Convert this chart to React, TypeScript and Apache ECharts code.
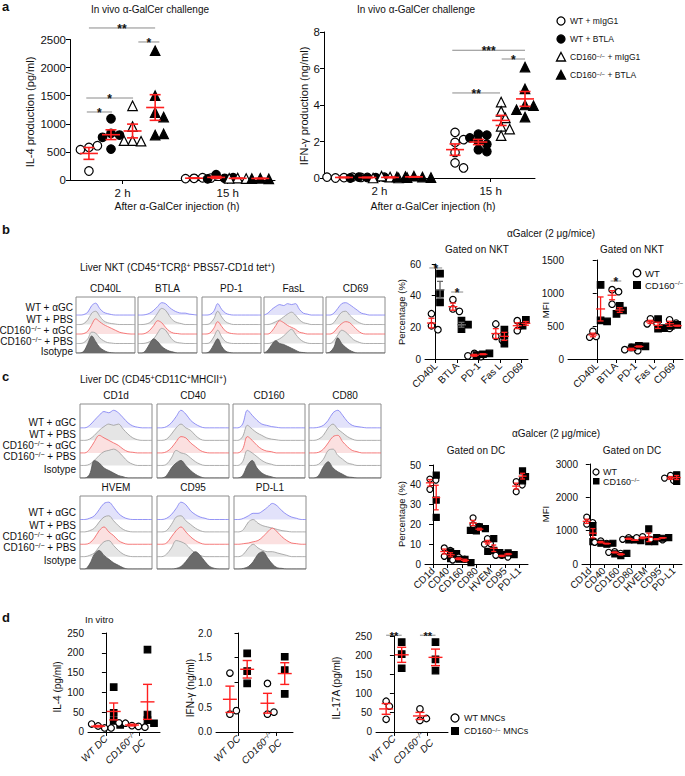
import React, { useEffect, useRef } from "react";
import * as echarts from "echarts";

const FONT = "'Liberation Sans', Arial, Helvetica, sans-serif";
const RED = "#ff1f1f";
const SUP = "{s|−/−}";

// ---------------- Panel a ----------------
const aTimes = ["2 h", "15 h"];
const aGroupNames = ["WT + mIgG1", "WT + BTLA", "CD160" + SUP + " + mIgG1", "CD160" + SUP + " + BTLA"];
const il4At2h = [[580, 610, 540, 160], [1090, 830, 800, 760, 550], [1320, 950, 700, 690, 700], [2300, 1500, 1200, 1120, 800, 820]];
const il4At15h = [[30, 40, 25, 35], [95, 30, 20, 40], [35, 25, 30], [30, 20, 25, 35]];
const ifngAt2h = [[0.02, 0.05, 0, 0.03, 0.05], [0.03, 0.02, 0.05, 0.04, 0], [0.05, 0, 0.1, 0.02, 0], [0.1, 0.05, 0.08, 0.02, 0.06]];
const ifngAt15h = [[2.5, 1.95, 2.1, 1.4, 0.83, 0.55], [2.4, 2.35, 2.2, 2.0, 1.85, 1.55, 1.45], [4.16, 3.65, 3.29, 2.83, 2.68, 2.32], [6.08, 4.88, 4.0, 3.96, 3.74, 3.34]];
const il4Sig = [[0.36, 1.62, 2705, "**"], [1.3, 1.7, 2456, "*"], [0.31, 1.2, 1459, "*"], [0.32, 0.8, 1210, "*"]];
const ifngSig = [[2.31, 3.62, 7.0, "***"], [3.2, 3.62, 6.52, "*"], [2.31, 3.17, 4.66, "**"]];

// ---------------- Panel b ----------------
const nktMarkers = ["CD40L", "BTLA", "PD-1", "Fas L", "CD69"];
const nktHistTitles = ["CD40L", "BTLA", "PD-1", "FasL", "CD69"];
const nktPctWT = [[28.6, 21, 18.5], [37.5, 31.6, 30.1], [3.5, 1.5, 2], [22.1, 14.3, 11.8], [24.2, 21, 17.9]];
const nktPctKO = [[53.9, 41.3, 35.8], [24.2, 21.7, 18.9], [3, 3.5, 2.5], [18.5, 14.7, 9.7], [24.8, 21.7, 21]];
const nktMfiWT = [[418, 342, 332], [1050, 1020, 830], [176, 126, 141], [609, 544, 533], [594, 544, 463]];
const nktMfiKO = [[1122, 584, 569], [805, 735, 684], [201, 191, 176], [604, 458, 468], [518, 493, 503]];
const nktPctSig = [[-0.3, 0.3, 57.5, "*"], [0.72, 1.28, 42.3, "*"]];
const nktMfiSig = [[0.72, 1.28, 1182, "*"]];

// histogram curves: [WT+aGC, WT+PBS, CD160 aGC, CD160 PBS, Isotype]
const hNktCD40L = [
  [0, 0, 0.5, 3, 10, 12.5, 7, 3, 1.5, 0.5, 0, 0, 0, 0, 0, 0],
  [0, 0, 1, 5, 12, 14, 9, 4, 2, 1, 0.5, 0, 0, 0, 0, 0],
  [0, 0, 0.5, 3, 10, 16, 13, 10, 8, 6, 4, 2, 1, 0.3, 0, 0],
  [0, 0, 1, 5, 12, 11, 6, 3, 1, 0.5, 0, 0, 0, 0, 0, 0],
  [0, 0, 2, 10, 18, 12, 6, 3, 1, 0.3, 0, 0, 0, 0, 0, 0],
];
const hNktBTLA = [
  [0, 0, 0.5, 2, 5, 9, 13, 12, 8, 5, 3, 2, 2, 1, 0.5, 0],
  [0, 0, 0.5, 2, 6, 12, 17, 15, 9, 4, 2, 1, 0, 0, 0, 0],
  [0, 0, 1, 4, 9, 14, 12, 7, 3, 1, 0.5, 0, 0, 0, 0, 0],
  [0, 0, 0.5, 2, 5, 11, 16, 14, 8, 3, 1, 0.5, 0, 0, 0, 0],
  [0, 0, 3, 10, 15, 12, 7, 4, 2, 1, 0, 0, 0, 0, 0, 0],
];
const hNktPD1 = [
  [0, 0, 0.5, 4, 12, 6, 2, 0.5, 0, 0, 0, 0, 0, 0, 0, 0],
  [0, 0, 1, 6, 14, 8, 3, 1, 0, 0, 0, 0, 0, 0, 0, 0],
  [0, 0, 1, 6, 13, 8, 3, 1, 0.3, 0, 0, 0, 0, 0, 0, 0],
  [0, 0, 1, 7, 14, 7, 2, 0.5, 0, 0, 0, 0, 0, 0, 0, 0],
  [0, 0, 2, 9, 15, 7, 2, 0.5, 0, 0, 0, 0, 0, 0, 0, 0],
];
const hNktFasL = [
  [0, 2, 6, 9, 11, 10, 12, 11, 12, 6, 2, 1, 0, 0, 0, 0],
  [0, 0, 1, 3, 5, 8, 11, 13, 10, 5, 2, 1, 0, 0, 0, 0],
  [0, 0, 3, 9, 14, 12, 9, 7, 5, 2, 1, 0, 0, 0, 0, 0],
  [0, 0, 1, 3, 5, 8, 12, 15, 10, 5, 2, 0.5, 0, 0, 0, 0],
  [0, 3, 9, 13, 10, 9, 7, 5, 3, 1, 0.5, 0, 0, 0, 0, 0],
];
const hNktCD69 = [
  [0, 0, 2, 7, 12, 13, 11, 8, 5, 2, 1, 0, 0, 0, 0, 0],
  [0, 0, 2, 8, 13, 14, 10, 6, 3, 1, 0, 0, 0, 0, 0, 0],
  [0, 0, 2, 7, 11, 13, 12, 8, 4, 1, 0, 0, 0, 0, 0, 0],
  [0, 0, 3, 9, 14, 12, 8, 4, 2, 0.5, 0, 0, 0, 0, 0, 0],
  [0, 1, 6, 16, 10, 6, 3, 1, 0, 0, 0, 0, 0, 0, 0, 0],
];

// ---------------- Panel c ----------------
const dcMarkers = ["CD1d", "CD40", "CD160", "CD80", "HVEM", "CD95", "PD-L1"];
const dcPctWT = [[42.9, 42.4, 37.7], [8.1, 6.9, 3.9], [3.5, 2.4, 2.0], [23.3, 19.8, 19.0], [12.8, 10.3, 10.0], [4.4, 3.5, 4.4], [41.6, 36.5, 39.9]];
const dcPctKO = [[44.9, 32.3, 23.5], [6.1, 5.2, 2.7], [2.4, 0.7, 2.4], [18.8, 17.9, 16.7, 17.0], [12.8, 6.9, 5.7, 6.4], [5.6, 4.7, 4.7], [47, 42, 44.1]];
const dcMfiWT = [[1404, 1194, 1244], [692, 622, 652], [371, 321, 351], [792, 742, 742], [822, 742, 792], [772, 722, 742], [2658, 2508, 2578]];
const dcMfiKO = [[1150, 670, 950], [592, 622, 622], [251, 321, 301], [722, 702, 722], [1053, 672, 672], [772, 792, 792], [2678, 2478, 2628]];

const hDcCD1d = [
  [0, 0, 2, 6, 10, 13, 12, 14, 12, 8, 4, 1.5, 0.5, 0, 0, 0],
  [0, 0, 1, 4, 8, 11, 13, 12, 13, 9, 5, 2, 0.5, 0, 0, 0],
  [0, 0, 3, 9, 14, 12, 10, 8, 6, 3, 1, 0.5, 0, 0, 0, 0],
  [0, 0, 1, 4, 8, 11, 12, 13, 11, 7, 3, 1, 0, 0, 0, 0],
  [0, 0, 3, 14, 12, 8, 6, 4, 2, 1, 0, 0, 0, 0, 0, 0],
];
const hDcCD40 = [
  [0, 0, 1, 4, 9, 14, 11, 6, 3, 1, 0, 0, 0, 0, 0, 0],
  [0, 0, 1, 5, 10, 13, 10, 8, 4, 1, 0, 0, 0, 0, 0, 0],
  [0, 0, 1, 4, 9, 13, 12, 8, 5, 2, 0.5, 0, 0, 0, 0, 0],
  [0, 0, 1, 6, 12, 10, 9, 6, 3, 1, 0, 0, 0, 0, 0, 0],
  [0, 0, 2, 8, 12, 14, 10, 6, 3, 1, 0, 0, 0, 0, 0, 0],
];
const hDcCD160 = [
  [0, 0, 3, 14, 10, 6, 3, 2, 1, 0.5, 0, 0, 0, 0, 0, 0],
  [0, 0, 3, 12, 9, 6, 4, 2, 1, 0.5, 0, 0, 0, 0, 0, 0],
  [0, 0, 3, 13, 10, 6, 3, 1.5, 1, 0, 0, 0, 0, 0, 0, 0],
  [0, 0, 3, 12, 10, 7, 4, 2, 1, 0, 0, 0, 0, 0, 0, 0],
  [0, 0, 2, 10, 14, 8, 4, 2, 1, 0, 0, 0, 0, 0, 0, 0],
];
const hDcCD80 = [
  [0, 0, 0.5, 2, 6, 12, 14, 10, 5, 2, 1, 0.5, 0, 0, 0, 0],
  [0, 0, 1, 4, 10, 13, 9, 6, 3, 1, 0, 0, 0, 0, 0, 0],
  [0, 0, 0.5, 3, 8, 13, 14, 9, 5, 2, 1, 0, 0, 0, 0, 0],
  [0, 0, 1, 5, 12, 13, 8, 5, 2, 1, 0, 0, 0, 0, 0, 0],
  [0, 0, 2, 9, 13, 8, 5, 3, 1, 0.5, 0, 0, 0, 0, 0, 0],
];
const hDcHVEM = [
  [0, 0, 1, 3, 8, 13, 14, 10, 5, 2, 0.5, 0, 0, 0, 0, 0],
  [0, 0, 1, 3, 8, 12, 13, 9, 5, 2, 0.5, 0, 0, 0, 0, 0],
  [0, 0, 1, 5, 11, 14, 10, 7, 3, 1, 0, 0, 0, 0, 0, 0],
  [0, 0, 1, 3, 8, 12, 13, 9, 5, 2, 0.5, 0, 0, 0, 0, 0],
  [0, 0, 4, 12, 15, 11, 8, 5, 3, 1, 0, 0, 0, 0, 0, 0],
];
const hDcCD95 = [
  [0, 0, 1, 4, 9, 14, 12, 7, 4, 2, 1, 0, 0, 0, 0, 0],
  [0, 0, 1, 6, 12, 13, 9, 6, 3, 1, 0, 0, 0, 0, 0, 0],
  [0, 0, 1, 6, 11, 14, 10, 6, 3, 1, 0, 0, 0, 0, 0, 0],
  [0, 0, 2, 7, 13, 12, 10, 6, 3, 1, 0, 0, 0, 0, 0, 0],
  [0, 0, 0, 0, 0.5, 2, 6, 11, 14, 11, 6, 2, 0.5, 0, 0, 0],
];
const hDcPDL1 = [
  [0, 0, 1, 3, 5, 5, 7, 10, 13, 11, 7, 4, 2, 1, 0, 0],
  [0, 0, 2, 8, 10, 7, 5, 4, 3, 2, 1, 0.5, 0, 0, 0, 0],
  [0, 0, 0.5, 1, 2, 3, 6, 10, 13, 10, 6, 3, 1, 0.5, 0, 0],
  [0, 0, 2, 7, 10, 7, 5, 4, 4, 3, 2, 1, 0, 0, 0, 0],
  [0, 0, 0.5, 2, 6, 12, 14, 9, 4, 1, 0.5, 0, 0, 0, 0, 0],
];

// ---------------- Panel d ----------------
const dCats = ["WT DC", "CD160" + SUP + "\nDC"];
const il4WtMNC = [[15, 10, 20, 10, 17], [16, 14, 22, 12, 23]];
const il4KoMNC = [[113, 48, 28, 18], [208, 44, 30, 22]];
const ifnWtMNC = [[1.19, 0.36, 0.43], [0.98, 0.36, 0.40]];
const ifnKoMNC = [[1.59, 1.23, 0.98], [1.52, 1.25, 0.77]];
const il17WtMNC = [[80, 67, 33], [60, 30, 35]];
const il17KoMNC = [[234, 203, 166], [234, 189, 160]];
const il17Sig = [[-0.23, 0.23, 252, "**"], [0.77, 1.23, 252, "**"]];

const rowNames = ["WT + αGC", "WT + PBS", "CD160" + SUP + " + αGC", "CD160" + SUP + " + PBS", "Isotype"];

const mean = (a: number[]) => a.reduce((s, v) => s + v, 0) / a.length;
const sem = (a: number[]) => {
  const m = mean(a);
  const sd = Math.sqrt(a.reduce((s, v) => s + (v - m) * (v - m), 0) / (a.length - 1));
  return sd / Math.sqrt(a.length);
};

function swarm(vals: number[], yPx: number, size: number) {
  const placed: [number, number][] = [];
  const step = size * 0.5;
  return vals.map((v) => {
    const y = v * yPx;
    for (let k = 0; k < 30; k++) {
      const off = k === 0 ? 0 : (k % 2 ? 1 : -1) * Math.ceil(k / 2) * step;
      if (placed.every(([px, py]) => Math.hypot(px - off, py - y) >= size * 0.85)) {
        placed.push([off, y]);
        return off;
      }
    }
    return 0;
  });
}

function buildOption() {
  const grid: any[] = [];
  const xAxis: any[] = [];
  const yAxis: any[] = [];
  const series: any[] = [];
  const graphic: any[] = [];

  const T = (x: number, y: number, text: string, fs: number, o: any = {}) => {
    graphic.push({
      type: "text", x, y, rotation: o.rot ?? 0, z: 50, silent: true,
      style: {
        text, fill: "#111", fontSize: fs, fontFamily: FONT,
        fontWeight: o.bold ? "bold" : "normal", fontStyle: o.italic ? "italic" : "normal",
        align: o.align ?? "center", verticalAlign: "middle",
        rich: { s: { fontSize: Math.round(fs * 0.68), fontFamily: FONT, fill: "#111", verticalAlign: "top" } },
      },
    });
  };

  function dotPlot(p: any) {
    const [left, top, width, height] = p.box;
    const gi = grid.length;
    grid.push({ left, top, width, height });
    const lab = (v: number) => {
      const k = p.ticks.findIndex((t: number) => Math.abs(t - v) < 1e-6);
      return k < 0 ? "" : p.tickText[k];
    };
    const labelStyle = {
      show: true, formatter: lab, rotate: p.rot ?? 0, interval: 0,
      showMinLabel: true, showMaxLabel: true, hideOverlap: false,
      fontSize: p.xfs ?? p.fs, fontFamily: FONT, color: "#111", margin: p.xMargin ?? 5,
      fontStyle: p.italic ? "italic" : "normal", lineHeight: (p.xfs ?? p.fs) + 1,
      rich: { s: { fontSize: 7, fontFamily: FONT, color: "#111", verticalAlign: "top", fontStyle: p.italic ? "italic" : "normal" } },
    };
    // labels split over two overlaid axes so that neighbouring rotated labels are never dropped
    const evenTicks = p.ticks.filter((_: number, i: number) => i % 2 === 0);
    const oddTicks = p.ticks.filter((_: number, i: number) => i % 2 === 1);
    const xi = xAxis.length;
    xAxis.push({
      gridIndex: gi, type: "value", position: "bottom", min: p.xr[0], max: p.xr[1], splitLine: { show: false },
      axisLine: { show: true, onZero: false, lineStyle: { color: "#000", width: 1 } },
      axisTick: { show: true, customValues: p.ticks, length: 4, lineStyle: { color: "#000" } },
      axisLabel: { ...labelStyle, customValues: evenTicks },
    });
    if (oddTicks.length) {
      xAxis.push({
        gridIndex: gi, type: "value", position: "bottom", offset: 0, min: p.xr[0], max: p.xr[1], splitLine: { show: false },
        axisLine: { show: false, onZero: false },
        axisTick: { show: false, customValues: oddTicks, length: 4 },
        axisLabel: { ...labelStyle, customValues: oddTicks },
      });
    }
    const yi = yAxis.length;
    yAxis.push({
      gridIndex: gi, type: "value", min: 0, max: p.yMax, interval: p.yStep, splitLine: { show: false },
      axisLine: { show: true, lineStyle: { color: "#000", width: 1 } },
      axisTick: { show: true, length: 4, lineStyle: { color: "#000" } },
      axisLabel: {
        fontSize: p.fs, fontFamily: FONT, color: "#111", margin: 4, showMinLabel: true, showMaxLabel: true, hideOverlap: false,
        formatter: p.yFmt ?? ((v: number) => String(v)),
      },
    });
    const xPx = width / (p.xr[1] - p.xr[0]);
    const yPx = height / p.yMax;
    const errs: number[][] = [];
    const errCol: string[] = [];
    p.groups.forEach((g: any) => {
      const offs = swarm(g.v, yPx, p.size);
      series.push({
        type: "scatter", xAxisIndex: xi, yAxisIndex: yi, symbol: g.sym,
        symbolSize: g.sym === "triangle" ? p.size + 1 : p.size, silent: true, z: 3,
        itemStyle: { color: g.fill ? "#000" : "#fff", borderColor: "#000", borderWidth: p.bw ?? 1.2, opacity: 1 },
        data: g.v.map((v: number, j: number) => [g.x + offs[j] / xPx, v]),
      });
      errs.push([g.x, mean(g.v), sem(g.v)]);
      errCol.push(g.ec ?? RED);
    });
    const mw = p.meanW, cw = p.capW, lw = p.ew ?? 1.4;
    series.push({
      type: "custom", xAxisIndex: xi, yAxisIndex: yi, silent: true, z: 5, data: errs,
      renderItem: (prm: any, api: any) => {
        const x = api.value(0), m = api.value(1), s = api.value(2);
        const c = api.coord([x, m]);
        const t = api.coord([x, m + s]);
        const b = api.coord([x, m - s]);
        const st = { stroke: errCol[prm.dataIndex], lineWidth: lw };
        const L = (x1: number, y1: number, x2: number, y2: number) => ({ type: "line", shape: { x1, y1, x2, y2 }, style: st });
        return {
          type: "group",
          children: [
            L(c[0] - mw / 2, c[1], c[0] + mw / 2, c[1]),
            L(c[0], t[1], c[0], b[1]),
            L(c[0] - cw / 2, t[1], c[0] + cw / 2, t[1]),
            L(c[0] - cw / 2, b[1], c[0] + cw / 2, b[1]),
          ],
        };
      },
    });
    if (p.sig) {
      const labels = p.sig.map((s: any) => s[3]);
      series.push({
        type: "custom", xAxisIndex: xi, yAxisIndex: yi, silent: true, z: 6,
        data: p.sig.map((s: any) => [s[0], s[2], s[1]]),
        renderItem: (prm: any, api: any) => {
          const a = api.coord([api.value(0), api.value(1)]);
          const b = api.coord([api.value(2), api.value(1)]);
          return {
            type: "group",
            children: [
              { type: "line", shape: { x1: a[0], y1: a[1], x2: b[0], y2: b[1] }, style: { stroke: "#8a8a8a", lineWidth: 1 } },
              {
                type: "text", x: (a[0] + b[0]) / 2, y: a[1] + 1,
                style: { text: labels[prm.dataIndex], align: "center", verticalAlign: "middle", fontSize: p.sfs ?? 12, fontFamily: FONT, fill: "#111", fontWeight: "bold" },
              },
            ],
          };
        },
      });
    }
  }

  const histStyles = [
    { line: "#7a7af2", fill: "#e2e2fa" },
    { line: "#9a9a9a", fill: "#e5e5e5" },
    { line: "#f25a5a", fill: "#fbe0e0" },
    { line: "#9a9a9a", fill: "#e5e5e5" },
    { line: "#555555", fill: "#6a6a6a" },
  ];
  function histBox(left: number, top: number, width: number, height: number, curves: number[][], label: string, fs: number) {
    const gi = grid.length;
    grid.push({ left, top, width, height, show: true, borderColor: "#8c8c8c", borderWidth: 1, backgroundColor: "#fff" });
    const xi = xAxis.length;
    xAxis.push({ gridIndex: gi, type: "value", min: 0, max: curves[0].length - 1, show: false });
    const yi = yAxis.length;
    yAxis.push({ gridIndex: gi, type: "value", min: 0, max: 59, show: false });
    curves.forEach((c, k) => {
      const base = (4 - k) * 10;
      series.push({
        type: "line", xAxisIndex: xi, yAxisIndex: yi, silent: true, smooth: 0.35, symbol: "none", z: 2 + k,
        data: c.map((v, j) => [j, base + v]),
        lineStyle: { color: histStyles[k].line, width: 0.8 },
        areaStyle: { color: histStyles[k].fill, opacity: 1, origin: base },
      });
    });
    T(left + width / 2, top - 9, label, fs);
  }

  // ---------- Panel letters ----------
  T(2, 6, "a", 13, { bold: true, align: "left" });
  T(2, 229, "b", 13, { bold: true, align: "left" });
  T(2, 376, "c", 13, { bold: true, align: "left" });
  T(2, 617, "d", 13, { bold: true, align: "left" });

  // ---------- Panel a ----------
  const aOff = [-0.64, -0.22, 0.19, 0.62];
  const aGroups = (d2: number[][], d15: number[][]) => {
    const out: any[] = [];
    [d2, d15].forEach((d, t) => {
      d.forEach((v, g) => out.push({ x: 1 + 2 * t + aOff[g], v, sym: g < 2 ? "circle" : "triangle", fill: g % 2 === 1 }));
    });
    return out;
  };
  dotPlot({
    box: [70, 39.5, 205, 140.5], xr: [0, 3.9], yMax: 2500, yStep: 500, ticks: [1, 3], tickText: aTimes,
    fs: 11.5, xMargin: 7, groups: aGroups(il4At2h, il4At15h), size: 8.5, meanW: 18, capW: 11, ew: 1.6, sig: il4Sig, sfs: 12,
  });
  dotPlot({
    box: [324, 32, 211, 146], xr: [0, 3.8], yMax: 8, yStep: 2, ticks: [1, 3], tickText: aTimes,
    fs: 11.5, xMargin: 7, groups: aGroups(ifngAt2h, ifngAt15h), size: 8.5, meanW: 18, capW: 11, ew: 1.6, sig: ifngSig, sfs: 12,
  });
  T(150, 9, "In vivo α-GalCer challenge", 10);
  T(416, 9, "In vivo α-GalCer challenge", 10);
  T(177, 206, "After α-GalCer injection (h)", 10.5);
  T(433, 206, "After α-GalCer injection (h)", 10.5);
  T(30, 112, "IL-4 production (pg/ml)", 11, { rot: Math.PI / 2 });
  T(304, 106, "IFN-γ production (ng/ml)", 11, { rot: Math.PI / 2 });
  // legend a
  const legY = [21, 39, 57, 75];
  legY.forEach((y, i) => {
    const filled = i % 2 === 1;
    const st = { fill: filled ? "#000" : "#fff", stroke: "#000", lineWidth: 1.3 };
    if (i < 2) graphic.push({ type: "circle", shape: { cx: 561, cy: y, r: 4 }, style: st, z: 50 });
    else graphic.push({ type: "polygon", shape: { points: [[561, y - 4.5], [565.5, y + 4], [556.5, y + 4]] }, style: st, z: 50 });
    T(570, y, aGroupNames[i], 8.5, { align: "left" });
  });

  // ---------- Panel b histograms ----------
  T(80, 267, "Liver NKT (CD45{s|+}TCRβ{s|+} PBS57-CD1d tet{s|+})", 10, { align: "left" });
  const bHists = [hNktCD40L, hNktBTLA, hNktPD1, hNktFasL, hNktCD69];
  const bX = [76, 138, 202, 264, 326];
  bHists.forEach((h, i) => histBox(bX[i], 297, 59, 56, h, nktHistTitles[i], 10));
  [307, 319, 330, 341, 351].forEach((y, i) => T(73, y, rowNames[i], 10, { align: "right" }));

  // ---------- Panel b dot plots ----------
  const catGroups = (wt: number[][], ko: number[][], off: number, koCol?: (i: number) => string | undefined) => {
    const out: any[] = [];
    wt.forEach((v, i) => {
      out.push({ x: i - off, v, sym: "circle", fill: false });
      out.push({ x: i + off, v: ko[i], sym: "rect", fill: true, ec: koCol ? koCol(i) : undefined });
    });
    return out;
  };
  const idx5 = [0, 1, 2, 3, 4];
  const idx7 = [0, 1, 2, 3, 4, 5, 6];
  dotPlot({
    box: [425, 264, 103, 95], xr: [-0.5, 4.3], yMax: 60, yStep: 20, ticks: idx5, tickText: nktMarkers, rot: 45,
    fs: 10, groups: catGroups(nktPctWT, nktPctKO, 0.2, (i) => (i < 2 ? "#666" : undefined)),
    size: 6.5, meanW: 9, capW: 6, ew: 1.3, sig: nktPctSig, sfs: 12,
  });
  dotPlot({
    box: [568, 260, 115, 99], xr: [-1.5, 4.5], yMax: 1500, yStep: 500, ticks: idx5, tickText: nktMarkers, rot: 45,
    fs: 10, groups: catGroups(nktMfiWT, nktMfiKO, 0.2), size: 6.5, meanW: 9, capW: 6, ew: 1.3, sig: nktMfiSig, sfs: 12,
  });
  T(551, 233, "αGalcer (2 μg/mice)", 10);
  T(477, 249, "Gated on NKT", 10);
  T(632, 249, "Gated on NKT", 10);
  T(401, 312, "Percentage (%)", 9.5, { rot: Math.PI / 2 });
  T(545, 310, "MFI", 9.5, { rot: Math.PI / 2 });
  graphic.push({ type: "circle", shape: { cx: 637, cy: 273, r: 3.8 }, style: { fill: "#fff", stroke: "#000", lineWidth: 1.3 }, z: 50 });
  graphic.push({ type: "rect", shape: { x: 633, y: 281, width: 8, height: 8 }, style: { fill: "#000" }, z: 50 });
  T(645, 273, "WT", 9.5, { align: "left" });
  T(645, 285, "CD160" + SUP, 9.5, { align: "left" });

  // ---------- Panel c histograms ----------
  T(80, 379, "Liver DC (CD45{s|+}CD11C{s|+}MHCII{s|+})", 10, { align: "left" });
  const cHists1 = [hDcCD1d, hDcCD40, hDcCD160, hDcCD80];
  const cHists2 = [hDcHVEM, hDcCD95, hDcPDL1];
  const cX1 = [80, 157, 233, 309];
  const cX2 = [80, 157, 234];
  cHists1.forEach((h, i) => histBox(cX1[i], 404, 72, 74, h, dcMarkers[i], 10));
  cHists2.forEach((h, i) => histBox(cX2[i], 496, 72, 73, h, dcMarkers[i + 4], 10));
  [422, 434, 445, 456, 469].forEach((y, i) => T(76, y, rowNames[i], 10, { align: "right" }));
  [512, 525, 536, 547, 560].forEach((y, i) => T(76, y, rowNames[i], 10, { align: "right" }));

  // ---------- Panel c dot plots ----------
  dotPlot({
    box: [425, 465, 103, 99], xr: [-0.56, 6.6], yMax: 50, yStep: 10, ticks: idx7, tickText: dcMarkers, rot: 45,
    fs: 10, groups: catGroups(dcPctWT, dcPctKO, 0.22), size: 6, meanW: 8, capW: 5, ew: 1.3,
  });
  dotPlot({
    box: [582, 464, 100, 100], xr: [-0.56, 6.6], yMax: 3000, yStep: 1000, ticks: idx7, tickText: dcMarkers, rot: 45,
    fs: 10, groups: catGroups(dcMfiWT, dcMfiKO, 0.22), size: 6, meanW: 8, capW: 5, ew: 1.3,
  });
  T(556, 433, "αGalcer (2 μg/mice)", 10);
  T(476, 450, "Gated on DC", 10);
  T(632, 450, "Gated on DC", 10);
  T(401, 514, "Percentage (%)", 9.5, { rot: Math.PI / 2 });
  T(545, 514, "MFI", 9.5, { rot: Math.PI / 2 });
  graphic.push({ type: "circle", shape: { cx: 596, cy: 472, r: 3 }, style: { fill: "#fff", stroke: "#000", lineWidth: 1.2 }, z: 50 });
  graphic.push({ type: "rect", shape: { x: 593, y: 478, width: 6.5, height: 6.5 }, style: { fill: "#000" }, z: 50 });
  T(603, 472, "WT", 9, { align: "left" });
  T(603, 481.5, "CD160" + SUP, 9, { align: "left" });

  // ---------- Panel d ----------
  const dGroups = (wt: number[][], ko: number[][]) => catGroups(wt, ko, 0.23);
  dotPlot({
    box: [88, 633, 72, 104], xr: [-0.53, 1.6], yMax: 250, yStep: 50, ticks: [0, 1], tickText: dCats, rot: 45, italic: true,
    fs: 10, groups: dGroups(il4WtMNC, il4KoMNC), size: 6.5, meanW: 14, capW: 9, ew: 1.4,
  });
  dotPlot({
    box: [216, 633, 77, 107], xr: [-0.6, 1.45], yMax: 2, yStep: 0.5, yFmt: (v: number) => v.toFixed(1), ticks: [0, 1], tickText: dCats, rot: 45, italic: true,
    fs: 10, groups: dGroups(ifnWtMNC, ifnKoMNC), size: 6.5, meanW: 14, capW: 9, ew: 1.4,
  });
  dotPlot({
    box: [376, 636, 72, 101], xr: [-0.53, 1.6], yMax: 250, yStep: 50, ticks: [0, 1], tickText: dCats, rot: 45, italic: true,
    fs: 10, groups: dGroups(il17WtMNC, il17KoMNC), size: 6.5, meanW: 14, capW: 9, ew: 1.4, sig: il17Sig, sfs: 11,
  });
  T(85, 619, "In vitro", 9.5, { align: "left" });
  T(57, 687, "IL-4 (pg/ml)", 10, { rot: Math.PI / 2 });
  T(190, 688, "IFN-γ (ng/ml)", 10, { rot: Math.PI / 2 });
  T(336, 688, "IL-17A (pg/ml)", 10, { rot: Math.PI / 2 });
  graphic.push({ type: "circle", shape: { cx: 455, cy: 718, r: 4 }, style: { fill: "#fff", stroke: "#000", lineWidth: 1.3 }, z: 50 });
  graphic.push({ type: "rect", shape: { x: 451, y: 727, width: 8, height: 8 }, style: { fill: "#000" }, z: 50 });
  T(464, 718, "WT MNCs", 9, { align: "left" });
  T(464, 731, "CD160" + SUP + " MNCs", 9, { align: "left" });

  return { animation: false, backgroundColor: "#fff", grid, xAxis, yAxis, series, graphic };
}

export default function App() {
  const ref = useRef<HTMLDivElement>(null);
  useEffect(() => {
    const chart = echarts.init(ref.current as HTMLDivElement, null, { renderer: "svg" });
    chart.setOption(buildOption() as any);
    return () => chart.dispose();
  }, []);
  return <div ref={ref} style={{ position: "absolute", left: 0, top: 0, width: 685, height: 776, background: "#fff" }} />;
}
